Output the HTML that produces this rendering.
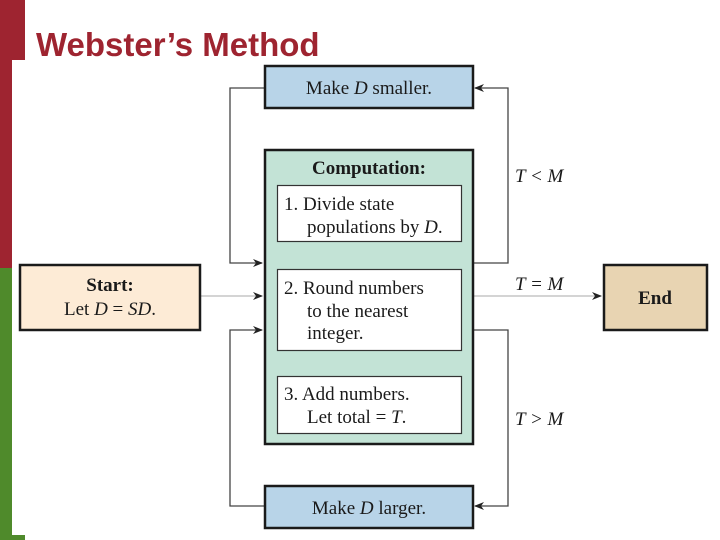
<!DOCTYPE html>
<html><head><meta charset="utf-8"><style>
html,body{margin:0;padding:0;background:#fff;width:720px;height:540px;overflow:hidden}
svg{display:block}
.t{font-family:"Liberation Serif",serif;font-size:19px;fill:#1a1a1a}
.b{font-weight:bold}
.i{font-style:italic}
</style></head><body>
<svg width="720" height="540" viewBox="0 0 720 540" xmlns="http://www.w3.org/2000/svg">
<defs><marker id="a" markerWidth="10" markerHeight="8" refX="9" refY="4" orient="auto" markerUnits="userSpaceOnUse"><path d="M0,0 L10,4 L0,8 L3,4 Z" fill="#222"/></marker></defs>
<rect x="0" y="0" width="25" height="60" fill="#9e2430"/>
<rect x="0" y="60" width="12" height="208" fill="#9e2430"/>
<rect x="0" y="268" width="12" height="272" fill="#4f8a2b"/>
<rect x="12" y="535" width="13" height="5" fill="#4f8a2b"/>
<text x="36" y="56" font-family="Liberation Sans,sans-serif" font-weight="bold" font-size="33" fill="#9e2430">Webster’s Method</text>

<g fill="none" stroke="#444" stroke-width="1.3">
<polyline points="265,88 230,88 230,263 262,263" marker-end="url(#a)"/>
<polyline points="265,506 230,506 230,330 262,330" marker-end="url(#a)"/>
<polyline points="473,263 508,263 508,88 475,88" marker-end="url(#a)"/>
<polyline points="473,330 508,330 508,506 475,506" marker-end="url(#a)"/>
<line x1="369" y1="242" x2="369" y2="267" marker-end="url(#a)"/>
<line x1="369" y1="351" x2="369" y2="374" marker-end="url(#a)"/>
</g>
<g stroke="#bbb" stroke-width="1.2"><line x1="200" y1="296" x2="262" y2="296" marker-end="url(#a)"/><line x1="473" y1="296" x2="601" y2="296" marker-end="url(#a)"/></g>

<rect x="265" y="66" width="208" height="42" fill="#b8d4e8" stroke="#1a1a1a" stroke-width="2.5"/>
<text x="369" y="94" text-anchor="middle" class="t">Make <tspan class="i">D</tspan> smaller.</text>

<rect x="265" y="150" width="208" height="294" fill="#c3e3d6" stroke="#1a1a1a" stroke-width="2.5"/>
<text x="369" y="174" text-anchor="middle" class="t b">Computation:</text>
<rect x="277.5" y="185.5" width="184" height="56" fill="#fff" stroke="#333" stroke-width="1.2"/>
<text x="284" y="210" class="t">1. Divide state</text>
<text x="307" y="233" class="t">populations by <tspan class="i">D</tspan>.</text>
<rect x="277.5" y="269.5" width="184" height="81" fill="#fff" stroke="#333" stroke-width="1.2"/>
<text x="284" y="294" class="t">2. Round numbers</text>
<text x="307" y="317" class="t">to the nearest</text>
<text x="307" y="339" class="t">integer.</text>
<rect x="277.5" y="376.5" width="184" height="57" fill="#fff" stroke="#333" stroke-width="1.2"/>
<text x="284" y="400" class="t">3. Add numbers.</text>
<text x="307" y="423" class="t">Let total = <tspan class="i">T</tspan>.</text>

<rect x="265" y="486" width="208" height="42" fill="#b8d4e8" stroke="#1a1a1a" stroke-width="2.5"/>
<text x="369" y="514" text-anchor="middle" class="t">Make <tspan class="i">D</tspan> larger.</text>

<rect x="20" y="265" width="180" height="65" fill="#fdebd6" stroke="#1a1a1a" stroke-width="2.5"/>
<text x="110" y="291" text-anchor="middle" class="t b">Start:</text>
<text x="110" y="315" text-anchor="middle" class="t">Let <tspan class="i">D</tspan> = <tspan class="i">SD</tspan>.</text>

<rect x="604" y="265" width="103" height="65" fill="#e8d4b2" stroke="#1a1a1a" stroke-width="2.5"/>
<text x="655" y="304" text-anchor="middle" class="t b">End</text>

<text x="515" y="182" class="t i">T &lt; M</text>
<text x="515" y="290" class="t i">T = M</text>
<text x="515" y="425" class="t i">T &gt; M</text>
</svg>
</body></html>
